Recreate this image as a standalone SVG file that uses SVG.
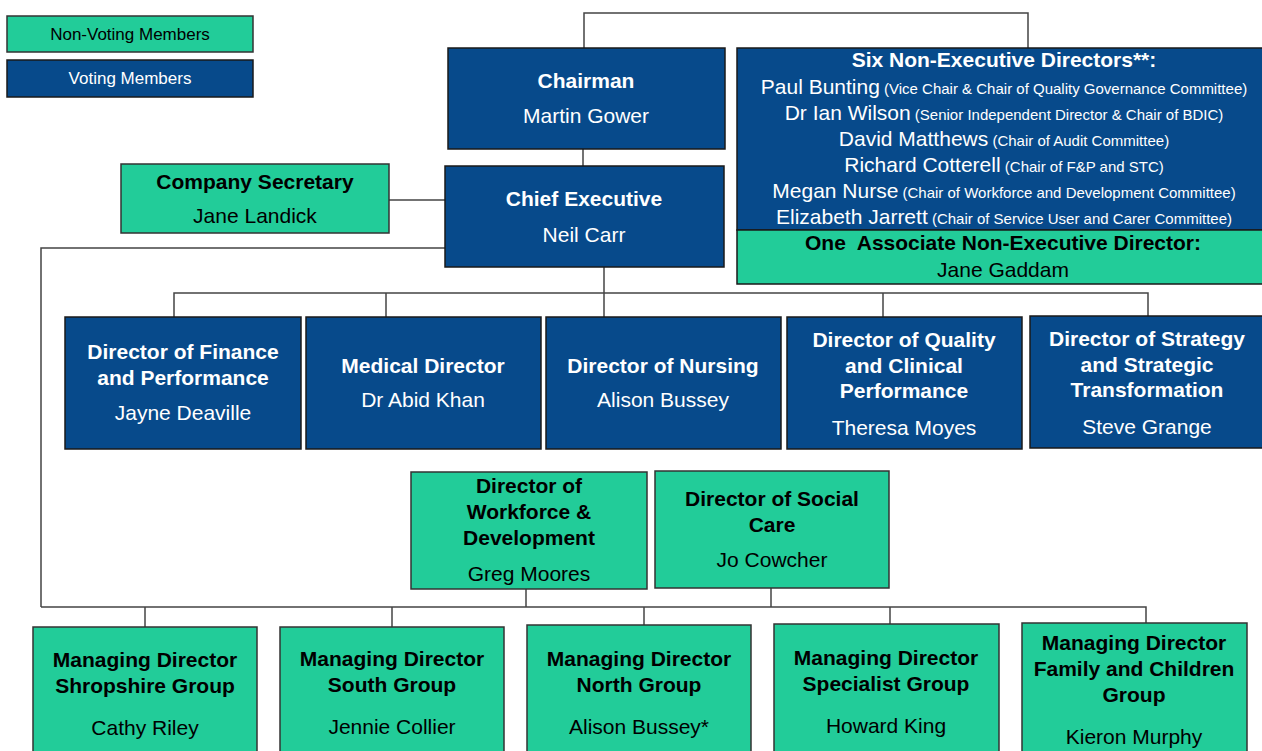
<svg xmlns="http://www.w3.org/2000/svg" width="1262" height="751" viewBox="0 0 1262 751">
<style>
  .bg { fill: #ffffff; }
  .blue { fill: #074a8b; stroke: #1a1a1a; stroke-width: 1.5; }
  .green { fill: #22cc99; stroke: #333333; stroke-width: 1.5; }
  text { font-family: "Liberation Sans", Arial, sans-serif; text-anchor: middle; }
  .w { fill: #ffffff; }
  .k { fill: #000000; }
  .t { font-size: 21px; font-weight: bold; }
  .n { font-size: 21px; }
  .leg { font-size: 17px; }
  .pr { font-size: 15px; }
  .conn path { fill: none; stroke: #444444; stroke-width: 1.5; }
</style>
<rect class="bg" x="0" y="0" width="1262" height="751"/>

<g class="conn" id="connectors">
  <path d="M584,48 V13 H1028 V48"/>
  <path d="M583,149 V166"/>
  <path d="M389,200 H445"/>
  <path d="M445,248 H41 V607"/>
  <path d="M604,267 V317"/>
  <path d="M174,317 V293 H1148 V316"/>
  <path d="M386,293 V317"/>
  <path d="M883,293 V317"/>
  <path d="M41,607 H1146 V623"/>
  <path d="M145,607 V627"/>
  <path d="M392,607 V627"/>
  <path d="M644,607 V625"/>
  <path d="M890,607 V624"/>
  <path d="M526,589 V607"/>
  <path d="M771,588 V607"/>
</g>

<g id="legend-nonvoting">
  <rect class="green" x="7" y="16" width="246" height="36"/>
  <text class="leg k" x="130" y="40">Non-Voting Members</text>
</g>
<g id="legend-voting">
  <rect class="blue" x="7" y="60" width="246" height="37"/>
  <text class="leg w" x="130" y="84">Voting Members</text>
</g>

<g id="chairman">
  <rect class="blue" x="448" y="48" width="277" height="101"/>
  <text class="t w" x="586" y="88">Chairman</text>
  <text class="n w" x="586" y="123">Martin Gower</text>
</g>

<g id="non-executive-directors">
  <rect class="blue" x="737" y="48" width="526" height="182"/>
  <text class="t w" x="1004" y="67">Six Non-Executive Directors**:</text>
  <text class="n w" x="1004" y="94">Paul Bunting<tspan class="pr"> (Vice Chair &amp; Chair of Quality Governance Committee)</tspan></text>
  <text class="n w" x="1004" y="120">Dr Ian Wilson<tspan class="pr"> (Senior Independent Director &amp; Chair of BDIC)</tspan></text>
  <text class="n w" x="1004" y="146">David Matthews<tspan class="pr"> (Chair of Audit Committee)</tspan></text>
  <text class="n w" x="1004" y="172">Richard Cotterell<tspan class="pr"> (Chair of F&amp;P and STC)</tspan></text>
  <text class="n w" x="1004" y="198">Megan Nurse<tspan class="pr"> (Chair of Workforce and Development Committee)</tspan></text>
  <text class="n w" x="1004" y="224">Elizabeth Jarrett<tspan class="pr"> (Chair of Service User and Carer Committee)</tspan></text>
</g>
<g id="associate-ned">
  <rect class="green" x="737" y="230" width="526" height="54" style="stroke:#1a1a1a"/>
  <text class="t k" x="1003" y="250" xml:space="preserve">One  Associate Non-Executive Director:</text>
  <text class="n k" x="1003" y="277">Jane Gaddam</text>
</g>

<g id="company-secretary">
  <rect class="green" x="121" y="164" width="268" height="69"/>
  <text class="t k" x="255" y="189">Company Secretary</text>
  <text class="n k" x="255" y="223">Jane Landick</text>
</g>

<g id="chief-executive">
  <rect class="blue" x="445" y="166" width="279" height="101"/>
  <text class="t w" x="584" y="206">Chief Executive</text>
  <text class="n w" x="584" y="242">Neil Carr</text>
</g>

<g id="director-finance">
  <rect class="blue" x="65" y="317" width="236" height="132"/>
  <text class="t w" x="183" y="359">Director of Finance</text>
  <text class="t w" x="183" y="385">and Performance</text>
  <text class="n w" x="183" y="420">Jayne Deaville</text>
</g>
<g id="medical-director">
  <rect class="blue" x="306" y="317" width="235" height="132"/>
  <text class="t w" x="423" y="373">Medical Director</text>
  <text class="n w" x="423" y="407">Dr Abid Khan</text>
</g>
<g id="director-nursing">
  <rect class="blue" x="546" y="317" width="235" height="132"/>
  <text class="t w" x="663" y="373">Director of Nursing</text>
  <text class="n w" x="663" y="407">Alison Bussey</text>
</g>
<g id="director-quality">
  <rect class="blue" x="787" y="317" width="235" height="132"/>
  <text class="t w" x="904" y="347">Director of Quality</text>
  <text class="t w" x="904" y="373">and Clinical</text>
  <text class="t w" x="904" y="398">Performance</text>
  <text class="n w" x="904" y="435">Theresa Moyes</text>
</g>
<g id="director-strategy">
  <rect class="blue" x="1030" y="316" width="233" height="132"/>
  <text class="t w" x="1147" y="346">Director of Strategy</text>
  <text class="t w" x="1147" y="372">and Strategic</text>
  <text class="t w" x="1147" y="397">Transformation</text>
  <text class="n w" x="1147" y="434">Steve Grange</text>
</g>

<g id="director-workforce">
  <rect class="green" x="411" y="472" width="236" height="117"/>
  <text class="t k" x="529" y="493">Director of</text>
  <text class="t k" x="529" y="519">Workforce &amp;</text>
  <text class="t k" x="529" y="545">Development</text>
  <text class="n k" x="529" y="581">Greg Moores</text>
</g>
<g id="director-social-care">
  <rect class="green" x="655" y="471" width="234" height="117"/>
  <text class="t k" x="772" y="506">Director of Social</text>
  <text class="t k" x="772" y="532">Care</text>
  <text class="n k" x="772" y="567">Jo Cowcher</text>
</g>

<g id="md-shropshire">
  <rect class="green" x="33" y="627" width="224" height="130"/>
  <text class="t k" x="145" y="667">Managing Director</text>
  <text class="t k" x="145" y="693">Shropshire Group</text>
  <text class="n k" x="145" y="735">Cathy Riley</text>
</g>
<g id="md-south">
  <rect class="green" x="280" y="627" width="224" height="130"/>
  <text class="t k" x="392" y="666">Managing Director</text>
  <text class="t k" x="392" y="692">South Group</text>
  <text class="n k" x="392" y="734">Jennie Collier</text>
</g>
<g id="md-north">
  <rect class="green" x="527" y="625" width="224" height="130"/>
  <text class="t k" x="639" y="666">Managing Director</text>
  <text class="t k" x="639" y="692">North Group</text>
  <text class="n k" x="639" y="734">Alison Bussey*</text>
</g>
<g id="md-specialist">
  <rect class="green" x="774" y="624" width="225" height="130"/>
  <text class="t k" x="886" y="665">Managing Director</text>
  <text class="t k" x="886" y="691">Specialist Group</text>
  <text class="n k" x="886" y="733">Howard King</text>
</g>
<g id="md-family-children">
  <rect class="green" x="1022" y="623" width="225" height="135"/>
  <text class="t k" x="1134" y="650">Managing Director</text>
  <text class="t k" x="1134" y="676">Family and Children</text>
  <text class="t k" x="1134" y="702">Group</text>
  <text class="n k" x="1134" y="744">Kieron Murphy</text>
</g>
</svg>
